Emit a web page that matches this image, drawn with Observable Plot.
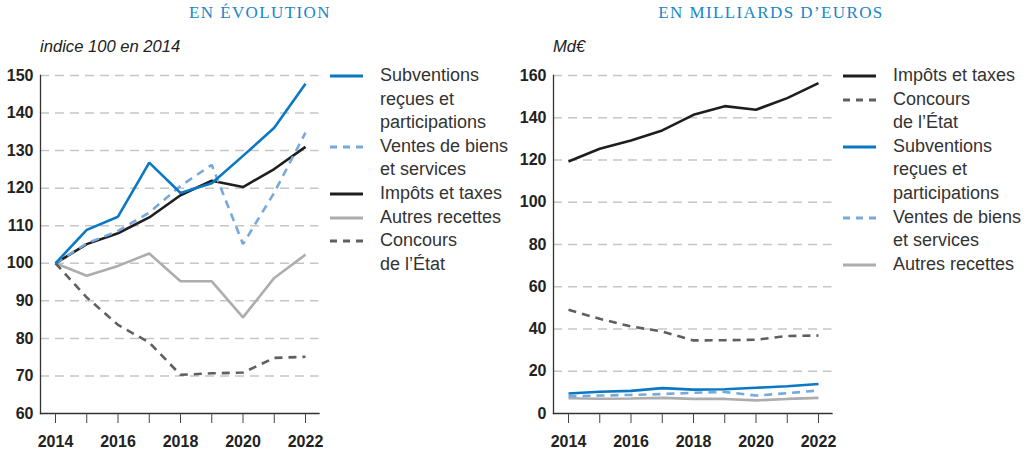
<!DOCTYPE html>
<html>
<head>
<meta charset="utf-8">
<script src="https://cdn.jsdelivr.net/npm/d3@7"></script>
<script src="https://cdn.jsdelivr.net/npm/@observablehq/plot@0.6"></script>
<style>
  html, body { margin: 0; padding: 0; background: #fff; }
  #wrap { position: relative; width: 1029px; height: 454px; overflow: hidden; font-family: "Liberation Sans", Arial, sans-serif; }
  .title { position: absolute; top: 3px; font-family: "Liberation Serif", serif; font-size: 17px; letter-spacing: 1.4px; color: #1a85c8; text-align: center; width: 400px; white-space: nowrap; }
  .sub { position: absolute; top: 37px; font-style: italic; font-size: 16.6px; color: #222; white-space: nowrap; }
  .chart { position: absolute; top: 55px; }
  .legend { position: absolute; top: 64px; font-size: 18px; color: #333; line-height: 23.6px; }
  .legend .item { position: relative; padding-left: 50px; white-space: nowrap; }
  .legend svg { position: absolute; left: 0; top: 10px; }
</style>
</head>
<body>
<div id="wrap">
  <div class="title" style="left:60px">EN ÉVOLUTION</div>
  <div class="title" style="left:571px">EN MILLIARDS D’EUROS</div>
  <div class="sub" style="left:40px">indice 100 en 2014</div>
  <div class="sub" style="left:553px">Md€</div>
  <div class="chart" id="left" style="left:0px"></div>
  <div class="chart" id="right" style="left:513px"></div>
  <div class="legend" id="legLeft" style="left:330px"></div>
  <div class="legend" id="legRight" style="left:843px"></div>
</div>
<script>
const years = [2014, 2015, 2016, 2017, 2018, 2019, 2020, 2021, 2022];

// Left: index 100 en 2014
const idxSubventions = [100, 108.9, 112.4, 126.8, 118.7, 121.3, 128.6, 136.1, 147.8];
const idxVentes      = [100, 105.3, 108.6, 113.5, 120.6, 126.2, 105.1, 118.8, 134.8];
const idxImpots      = [100, 105.1, 108.0, 112.2, 118.1, 122.0, 120.3, 125.1, 131.0];
const idxAutres      = [100, 96.7, 99.3, 102.6, 95.2, 95.2, 85.6, 96.1, 102.3];
const idxConcours    = [100, 90.9, 83.6, 78.9, 70.3, 70.7, 70.9, 74.8, 75.1];

// Right: Md€
const mdImpots      = [119.3, 125.3, 129.2, 134.0, 141.4, 145.5, 143.8, 149.3, 156.4];
const mdConcours    = [49.1, 44.8, 41.2, 38.8, 34.6, 34.7, 34.9, 36.7, 36.9];
const mdSubventions = [9.5, 10.3, 10.7, 12.0, 11.3, 11.5, 12.2, 12.9, 14.0];
const mdVentes      = [8.1, 8.5, 8.8, 9.2, 9.8, 10.2, 8.5, 9.6, 10.9];
const mdAutres      = [7.2, 7.0, 7.1, 7.4, 6.9, 6.9, 6.2, 6.9, 7.4];

const leftTicks = [60, 70, 80, 90, 100, 110, 120, 130, 140, 150];
const rightTicks = [0, 20, 40, 60, 80, 100, 120, 140, 160];
const xLabelYears = [2014, 2016, 2018, 2020, 2022];

const styles = {
  "Subventions": {stroke: "#0a78c2", dash: null, label: ["Subventions", "reçues et", "participations"]},
  "Ventes":      {stroke: "#78a9dc", dash: "8,6", label: ["Ventes de biens", "et services"]},
  "Impots":      {stroke: "#1e1e1e", dash: null, label: ["Impôts et taxes"]},
  "Autres":      {stroke: "#adadad", dash: null, label: ["Autres recettes"]},
  "Concours":    {stroke: "#5f5f5f", dash: "8,6", label: ["Concours", "de l’État"]}
};

function tidy(values) { return years.map((y, i) => ({year: y, value: values[i]})); }

function makeChart(series, yDomain, yTicks, drawOrder) {
  const marks = [
    Plot.ruleY(yTicks.slice(1), {stroke: "#c6c6c6", strokeWidth: 1.5, strokeDasharray: "9,6"}),
    Plot.frame({anchor: "left", stroke: "#333", strokeWidth: 1.3}),
    Plot.frame({anchor: "bottom", stroke: "#333", strokeWidth: 1.3}),
    Plot.axisY({ticks: yTicks, tickSize: 0, tickPadding: 7, fontWeight: "bold", fontSize: 16, label: null, tickFormat: d => d}),
    Plot.axisX({ticks: years, tickSize: 10, tickPadding: 12, fontWeight: "bold", fontSize: 16, label: null, stroke: "#444",
      tickFormat: d => xLabelYears.includes(d) ? String(d) : ""})
  ];
  for (const key of drawOrder) {
    const s = styles[key];
    marks.push(Plot.line(tidy(series[key]), {x: "year", y: "value", stroke: s.stroke, strokeWidth: 2.6,
      strokeDasharray: s.dash || undefined, strokeLinejoin: "miter", strokeLinecap: "butt"}));
  }
  return Plot.plot({
    width: 320, height: 399,
    marginLeft: 40, marginRight: 1.5, marginTop: 20, marginBottom: 41,
    x: {domain: [2014, 2022], range: [55, 305]},
    y: {domain: yDomain},
    style: {fontFamily: "'Liberation Sans', Arial, sans-serif", fontSize: "16px", color: "#222", background: "transparent", overflow: "visible"},
    marks
  });
}

const order = ["Autres", "Concours", "Impots", "Ventes", "Subventions"];
document.getElementById("left").appendChild(makeChart(
  {Subventions: idxSubventions, Ventes: idxVentes, Impots: idxImpots, Autres: idxAutres, Concours: idxConcours},
  [60, 150], leftTicks, order));
document.getElementById("right").appendChild(makeChart(
  {Subventions: mdSubventions, Ventes: mdVentes, Impots: mdImpots, Autres: mdAutres, Concours: mdConcours},
  [0, 160], rightTicks, order));

function legend(el, keys) {
  const node = document.getElementById(el);
  for (const k of keys) {
    const s = styles[k];
    s.label.forEach((line, i) => {
      const div = document.createElement("div");
      div.className = "item";
      if (i === 0) {
        div.innerHTML = `<svg width="34" height="4"><line x1="0" x2="33" y1="2" y2="2" stroke="${s.stroke}" stroke-width="3" ${s.dash ? 'stroke-dasharray="7,6"' : ''}/></svg>`;
      }
      div.appendChild(document.createTextNode(line));
      node.appendChild(div);
    });
  }
}
legend("legLeft", ["Subventions", "Ventes", "Impots", "Autres", "Concours"]);
legend("legRight", ["Impots", "Concours", "Subventions", "Ventes", "Autres"]);
</script>
</body>
</html>
